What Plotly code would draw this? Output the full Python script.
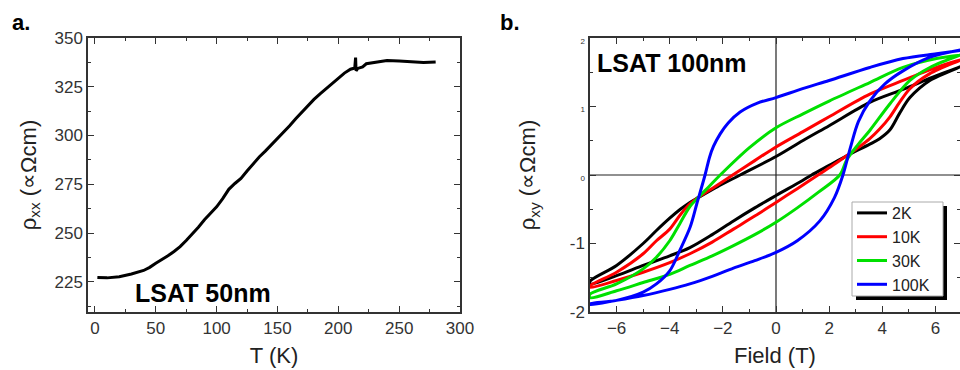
import plotly.graph_objects as go

# ---- Panel a: rho_xx vs T ----
T_K = [2, 10, 20, 30, 40, 45, 50, 55, 60, 65, 70, 75, 80, 85, 90, 95, 100, 105, 110, 115,
       120, 125, 130, 135, 140, 145, 150, 155, 160, 165, 170, 175, 180, 185, 190, 195, 200,
       205, 210, 213.5, 214.2, 214.6, 216, 220, 223, 230, 240, 250, 260, 270, 280]
rho_xx = [227.2, 227.0, 227.6, 229.0, 230.8, 232.4, 234.5, 236.2, 238.3, 240.5, 243.0, 246.2,
          249.4, 253.0, 256.8, 260.0, 263.4, 267.6, 272.4, 275.4, 278.0, 281.8, 285.6, 289.0,
          292.0, 295.2, 298.3, 301.6, 305.0, 308.6, 312.0, 315.4, 318.5, 321.4, 324.0, 326.8,
          329.5, 332.0, 334.0, 334.6, 340.0, 333.2, 334.4, 335.2, 336.8, 337.5, 338.5, 338.2,
          337.7, 337.4, 337.7]

# ---- Panel b: rho_xy hysteresis loops (field sweep down, then sweep up) ----
temps = ["2K", "10K", "30K", "100K"]
colors = ["#000000", "#ff0000", "#00e000", "#0000ff"]

field_2K = [7, 6.04, 4.78, 3.53, 2, 1, 0, -1.35, -2.2, -2.93, -3.24, -3.6, -4, -4.5, -5, -6, -7,
            -7, -6, -5, -4, -3.24, -2.4, -1.6, -0.8, 0, 1, 1.34, 2, 2.66, 3.53, 3.9, 4.29,
            4.65, 5.04, 5.79, 7]
rho_2K = [1.59, 1.45, 1.25, 1.06, 0.72, 0.50, 0.27, 0.0, -0.17, -0.33, -0.40, -0.50, -0.63,
          -0.81, -1.00, -1.32, -1.55,
          -1.59, -1.47, -1.32, -1.18, -1.06, -0.87, -0.67, -0.48, -0.30, -0.08, 0.0, 0.14,
          0.28, 0.45, 0.53, 0.66, 0.90, 1.13, 1.38, 1.59]

field_10K = [7, 6.04, 4.78, 3.53, 2, 1, 0, -0.8, -1.63, -2.3, -2.93, -3.24, -3.6, -4, -4.5, -5,
             -6, -7,
             -7, -6, -5, -4, -3.24, -2.4, -1.6, -0.8, 0, 0.8, 1.58, 2.1, 2.66, 3.1, 3.53,
             3.9, 4.29, 4.65, 5.04, 5.79, 7]
rho_10K = [1.69, 1.57, 1.38, 1.18, 0.85, 0.63, 0.41, 0.21, 0.0, -0.17, -0.33, -0.42, -0.58,
           -0.79, -0.96, -1.15, -1.42, -1.62,
           -1.64, -1.54, -1.42, -1.28, -1.15, -0.98, -0.79, -0.60, -0.40, -0.20, 0.0, 0.13,
           0.28, 0.40, 0.53, 0.67, 0.85, 1.06, 1.26, 1.48, 1.69]

field_30K = [7, 6.04, 4.78, 3.53, 2, 1, 0, -1, -2.1, -2.5, -2.93, -3.24, -3.62, -4, -4.5, -5,
             -6, -7,
             -7, -6, -5, -4, -3.24, -2.4, -1.6, -0.8, 0, 0.8, 1.6, 2.4, 2.66, 3.1, 3.53,
             4.29, 5.04, 5.79, 7]
rho_30K = [1.75, 1.70, 1.57, 1.35, 1.08, 0.89, 0.69, 0.40, 0.0, -0.16, -0.33, -0.46, -0.71,
           -0.96, -1.20, -1.37, -1.59, -1.74,
           -1.79, -1.69, -1.57, -1.45, -1.32, -1.18, -1.03, -0.87, -0.69, -0.48, -0.25, 0.0,
           0.22, 0.45, 0.65, 1.04, 1.38, 1.57, 1.76]

field_100K = [7, 6.04, 4.78, 3.53, 2, 1, 0, -0.7, -1.35, -1.8, -2.1, -2.35, -2.5, -2.67, -2.98,
              -3.23, -3.62, -4, -4.5, -5, -6, -7,
              -7, -6, -5, -4, -3.24, -2.4, -1.6, -0.8, 0, 0.8, 1.65, 2.2, 2.52, 2.8, 3.1,
              3.53, 4.1, 4.78, 5.8, 7]
rho_100K = [1.82, 1.77, 1.70, 1.57, 1.38, 1.26, 1.13, 1.05, 0.92, 0.76, 0.60, 0.42, 0.26, 0.0,
            -0.42, -0.76, -1.10, -1.40, -1.59, -1.71, -1.83, -1.88,
            -1.89, -1.83, -1.76, -1.67, -1.59, -1.48, -1.36, -1.25, -1.13, -0.96, -0.67,
            -0.33, 0.0, 0.40, 0.78, 1.08, 1.33, 1.52, 1.72, 1.83]

fields = [field_2K, field_10K, field_30K, field_100K]
rhos = [rho_2K, rho_10K, rho_30K, rho_100K]

W, H = 960, 370
def px(x):
    return x / W
def py(y):
    return 1 - y / H

FONT = "Arial, Liberation Sans, sans-serif"
fig = go.Figure()

fig.add_trace(go.Scatter(x=T_K, y=rho_xx, mode="lines", line=dict(color="black", width=3),
                         showlegend=False, xaxis="x", yaxis="y"))

for name, c, fx, ry in zip(temps, colors, fields, rhos):
    fig.add_trace(go.Scatter(x=fx, y=ry, mode="lines", name=name,
                             line=dict(color=c, width=3, shape="spline", smoothing=0.9),
                             xaxis="x2", yaxis="y2"))

axis_common = dict(showline=True, linecolor="#333", linewidth=1.5, mirror="allticks",
                   ticks="inside", ticklen=6, tickcolor="#333", tickwidth=1.2,
                   showgrid=False, zeroline=False, automargin=False)

fig.update_layout(
    width=W, height=H, margin=dict(l=0, r=0, t=0, b=0, autoexpand=False),
    paper_bgcolor="white", plot_bgcolor="white",
    font=dict(family=FONT, color="#222"),
    xaxis=dict(domain=[px(88), px(460)], range=[-5.7, 300], anchor="y",
               tickvals=[0, 50, 100, 150, 200, 250, 300],
               tickfont=dict(size=17, color="#333"),
               minor=dict(dtick=25, ticks="inside", ticklen=3, tickcolor="#333"),
               title=dict(text="T (K)", font=dict(size=22, color="#222"), standoff=10),
               **axis_common),
    yaxis=dict(domain=[py(312), py(38)], range=[209.5, 350], anchor="x",
               tickvals=[225, 250, 275, 300, 325, 350],
               tickfont=dict(size=17, color="#333"),
               minor=dict(dtick=12.5, tick0=0, ticks="inside", ticklen=3, tickcolor="#333"),
               title=dict(text="ρ<sub>xx</sub> (∝Ωcm)", font=dict(size=22, color="#222"), standoff=12),
               **axis_common),
    xaxis2=dict(domain=[px(590), 1.0], range=[-7, 6.925], anchor="y2",
                tickvals=[-6, -4, -2, 0, 2, 4, 6],
                tickfont=dict(size=17, color="#333"),
                minor=dict(dtick=1, ticks="inside", ticklen=3, tickcolor="#333"),
                title=dict(text="Field (T)", font=dict(size=22, color="#222"), standoff=10),
                **axis_common),
    yaxis2=dict(domain=[py(312), py(38)], range=[-2, 2], anchor="x2",
                tickvals=[-2, -1, 0, 1, 2],
                ticktext=["-2", "-1", "<span style='font-size:8px'>0</span>",
                          "<span style='font-size:8px'>1</span>",
                          "<span style='font-size:8px'>2</span>"],
                tickfont=dict(size=17, color="#333"),
                minor=dict(dtick=0.5, ticks="inside", ticklen=3, tickcolor="#333"),
                title=dict(text="ρ<sub>xy</sub> (∝Ωcm)", font=dict(size=22, color="#222"), standoff=28),
                **axis_common),
    legend=dict(x=px(852), y=py(196), xanchor="left", yanchor="top",
                bgcolor="rgba(0,0,0,0)", borderwidth=0,
                font=dict(size=16, color="#222", family=FONT),
                tracegroupgap=0, itemwidth=30),
)

# zero lines in panel b
fig.add_shape(type="line", xref="x2", yref="y2", x0=-7, x1=6.925, y0=0, y1=0,
              line=dict(color="#222", width=1.2), layer="below")
fig.add_shape(type="line", xref="x2", yref="y2", x0=0, x1=0, y0=-2, y1=2,
              line=dict(color="#222", width=1.2), layer="below")

# legend frame with drop shadow
fig.add_shape(type="rect", xref="paper", yref="paper",
              x0=px(856), x1=px(947), y0=py(300), y1=py(206),
              fillcolor="black", line=dict(width=0), layer="above")
fig.add_shape(type="rect", xref="paper", yref="paper",
              x0=px(852), x1=px(943), y0=py(296), y1=py(202),
              fillcolor="white", line=dict(color="#aaa", width=1), layer="above")

fig.add_annotation(text="<b>a.</b>", xref="paper", yref="paper", x=px(10), y=py(8),
                   xanchor="left", yanchor="top", showarrow=False,
                   font=dict(size=22, color="black", family=FONT))
fig.add_annotation(text="<b>b.</b>", xref="paper", yref="paper", x=px(498), y=py(8),
                   xanchor="left", yanchor="top", showarrow=False,
                   font=dict(size=22, color="black", family=FONT))
fig.add_annotation(text="<b>LSAT 50nm</b>", xref="paper", yref="paper", x=px(133), y=py(293),
                   xanchor="left", yanchor="middle", showarrow=False,
                   font=dict(size=25, color="black", family=FONT))
fig.add_annotation(text="<b>LSAT 100nm</b>", xref="paper", yref="paper", x=px(595), y=py(63),
                   xanchor="left", yanchor="middle", showarrow=False,
                   font=dict(size=25, color="black", family=FONT))

fig.write_html("out.html", config={"displayModeBar": False},
               post_script="document.body.style.margin='0';document.body.style.overflow='hidden';")
